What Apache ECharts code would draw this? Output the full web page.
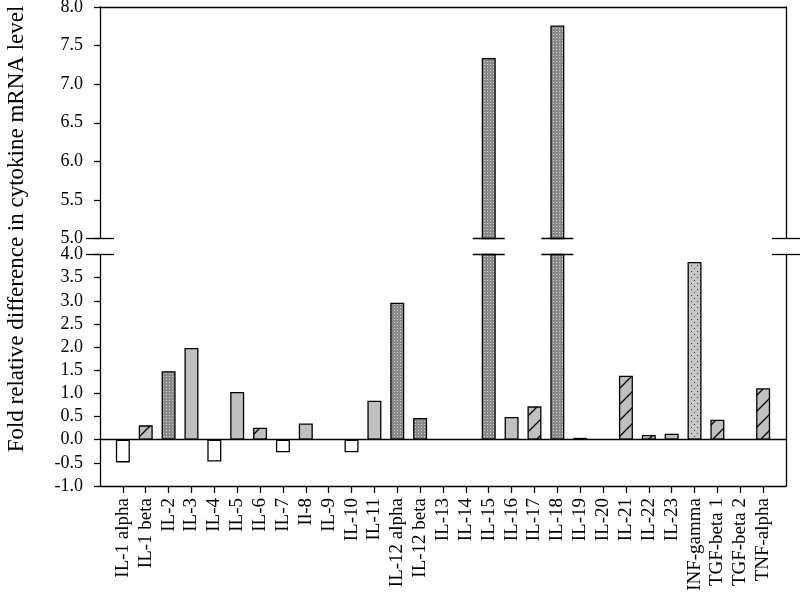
<!DOCTYPE html>
<html>
<head>
<meta charset="utf-8">
<script src="https://cdn.jsdelivr.net/npm/echarts@6/dist/echarts.min.js"></script>
<style>
  html, body { margin: 0; padding: 0; background: #fff; }
  #chart { width: 800px; height: 594px; }
</style>
</head>
<body>
<div id="chart"></div>
<script>
// data
var categories = ['IL-1 alpha', 'IL-1 beta', 'IL-2', 'IL-3', 'IL-4', 'IL-5', 'IL-6', 'IL-7', 'Il-8', 'IL-9',
  'IL-10', 'IL-11', 'IL-12 alpha', 'IL-12 beta', 'IL-13', 'IL-14', 'IL-15', 'IL-16', 'IL-17', 'IL-18',
  'IL-19', 'IL-20', 'IL-21', 'IL-22', 'IL-23', 'INF-gamma', 'TGF-beta 1', 'TGF-beta 2', 'TNF-alpha'];
var values = [-0.49, 0.31, 1.48, 1.98, -0.47, 1.03, 0.26, -0.27, 0.35, 0,
  -0.27, 0.84, 2.96, 0.47, 0, 0, 7.34, 0.49, 0.72, 7.76,
  0.04, 0, 1.38, 0.10, 0.13, 3.84, 0.43, 0, 1.11];
// which fill each bar uses
var fills = ['white', 'hatch', 'dense', 'gray', 'white', 'gray', 'hatch', 'white', 'gray', 'none',
  'white', 'gray', 'dense', 'dense', 'none', 'none', 'dense', 'gray', 'hatch', 'dense',
  'dense', 'none', 'hatch', 'hatch', 'gray', 'light', 'hatch', 'none', 'hatch'];
var lowerRange = [-1, 4];
var upperRange = [5, 8];
var tickStep = 0.5;
var yTitle = 'Fold relative difference in cytokine mRNA level';

// fill patterns
function tile(w, h, draw) {
  var c = document.createElement('canvas');
  c.width = w; c.height = h;
  draw(c.getContext('2d'));
  return { image: c, repeat: 'repeat' };
}
var hatch = tile(16, 16, function (g) {
  g.fillStyle = '#c0c0c0'; g.fillRect(0, 0, 16, 16);
  g.strokeStyle = '#000'; g.lineWidth = 1.3;
  g.beginPath();
  g.moveTo(0, 16); g.lineTo(16, 0);
  g.moveTo(-2, 2); g.lineTo(2, -2);
  g.moveTo(14, 18); g.lineTo(18, 14);
  g.stroke();
});
var dense = tile(3, 3, function (g) {
  g.fillStyle = '#8a8a8a'; g.fillRect(0, 0, 3, 3);
  g.fillStyle = '#d2d2d2'; g.fillRect(1, 1, 1, 1);
});
var light = tile(6, 6, function (g) {
  g.fillStyle = '#c6c6c6'; g.fillRect(0, 0, 6, 6);
  g.fillStyle = '#333'; g.fillRect(1, 1, 1, 1); g.fillRect(4, 4, 1, 1);
});
var fillColors = { white: '#ffffff', gray: '#c0c0c0', hatch: hatch, dense: dense, light: light, none: '#ffffff' };

// padded category axis so bars sit at 1..29 on a 0..30 span
var xData = [''].concat(categories, ['']);
var nX = xData.length - 1;
function barData(filter) {
  var out = ['-'];
  values.forEach(function (v, i) {
    out.push(v !== 0 && filter(v) ? { value: v, itemStyle: { color: fillColors[fills[i]] } } : '-');
  });
  out.push('-');
  return out;
}
function breakData(y) {
  var out = [[0, y], [nX, y]];
  values.forEach(function (v, i) { if (v > lowerRange[1]) out.push([i + 1, y]); });
  return out;
}
function renderBreak(params, api) {
  var idx = api.value(0);
  var p = api.coord([idx, api.value(1)]);
  var half = (idx === 0 || idx === nX) ? 14 : 16;
  return {
    type: 'line',
    shape: { x1: p[0] - half, y1: p[1], x2: p[0] + half, y2: p[1] },
    style: { stroke: '#000', lineWidth: 1.3 }
  };
}

var serif = 'Liberation Serif';
var axisLine = { show: true, onZero: false, lineStyle: { color: '#000', width: 1.3 } };
var yLabel = { fontFamily: serif, fontSize: 18, color: '#000', margin: 17, formatter: function (v) { return v.toFixed(1); } };

var chart = echarts.init(document.getElementById('chart'));
var option = {
  animation: false,
  backgroundColor: '#fff',
  grid: [
    { left: 100, right: 14, top: 7, height: 231.5, outerBoundsMode: 'none' },
    { left: 100, right: 14, top: 254.5, height: 231.5, outerBoundsMode: 'none' }
  ],
  xAxis: [
    { gridIndex: 0, type: 'category', data: xData, boundaryGap: false, position: 'top',
      axisLine: axisLine, axisTick: { show: false }, axisLabel: { show: false }, splitLine: { show: false } },
    { gridIndex: 1, type: 'category', data: xData, boundaryGap: false, position: 'bottom',
      axisLine: axisLine,
      axisTick: { show: true, length: 7, lineStyle: { color: '#000', width: 1.3 },
        interval: function (i, v) { return v !== ''; } },
      axisLabel: { rotate: 90, fontFamily: serif, fontSize: 19, color: '#000', margin: 12,
        interval: function (i, v) { return v !== ''; } },
      splitLine: { show: false } }
  ],
  yAxis: [
    { gridIndex: 0, type: 'value', min: upperRange[0], max: upperRange[1], interval: tickStep,
      axisLine: axisLine, axisTick: { show: true, length: 6, lineStyle: { color: '#000', width: 1.3 } },
      axisLabel: yLabel, splitLine: { show: false } },
    { gridIndex: 0, type: 'value', position: 'right', min: upperRange[0], max: upperRange[1],
      axisLine: axisLine, axisTick: { show: false }, axisLabel: { show: false }, splitLine: { show: false } },
    { gridIndex: 1, type: 'value', min: lowerRange[0], max: lowerRange[1], interval: tickStep,
      axisLine: axisLine, axisTick: { show: true, length: 6, lineStyle: { color: '#000', width: 1.3 } },
      axisLabel: yLabel, splitLine: { show: false } },
    { gridIndex: 1, type: 'value', position: 'right', min: lowerRange[0], max: lowerRange[1],
      axisLine: axisLine, axisTick: { show: false }, axisLabel: { show: false }, splitLine: { show: false } }
  ],
  series: [
    { type: 'bar', xAxisIndex: 0, yAxisIndex: 0, barWidth: 14, clip: true,
      itemStyle: { borderColor: '#000', borderWidth: 1.3 },
      data: barData(function (v) { return v > upperRange[0]; }) },
    { type: 'bar', xAxisIndex: 1, yAxisIndex: 2, barWidth: 14, clip: true,
      itemStyle: { borderColor: '#000', borderWidth: 1.3 },
      data: barData(function (v) { return true; }),
      markLine: { silent: true, symbol: 'none', label: { show: false },
        lineStyle: { color: '#000', width: 1.3, type: 'solid' },
        data: [{ yAxis: 0 }] } },
    { type: 'custom', xAxisIndex: 0, yAxisIndex: 0, clip: false, silent: true,
      renderItem: renderBreak, data: breakData(upperRange[0]), z: 5 },
    { type: 'custom', xAxisIndex: 1, yAxisIndex: 2, clip: false, silent: true,
      renderItem: renderBreak, data: breakData(lowerRange[1]), z: 5 }
  ],
  graphic: [
    { type: 'text', x: 17, y: 229, rotation: Math.PI / 2,
      style: { text: yTitle, fontFamily: serif, fontSize: 23, fill: '#000',
        textAlign: 'center', textVerticalAlign: 'middle' } }
  ]
};
chart.setOption(option);
</script>
</body>
</html>
